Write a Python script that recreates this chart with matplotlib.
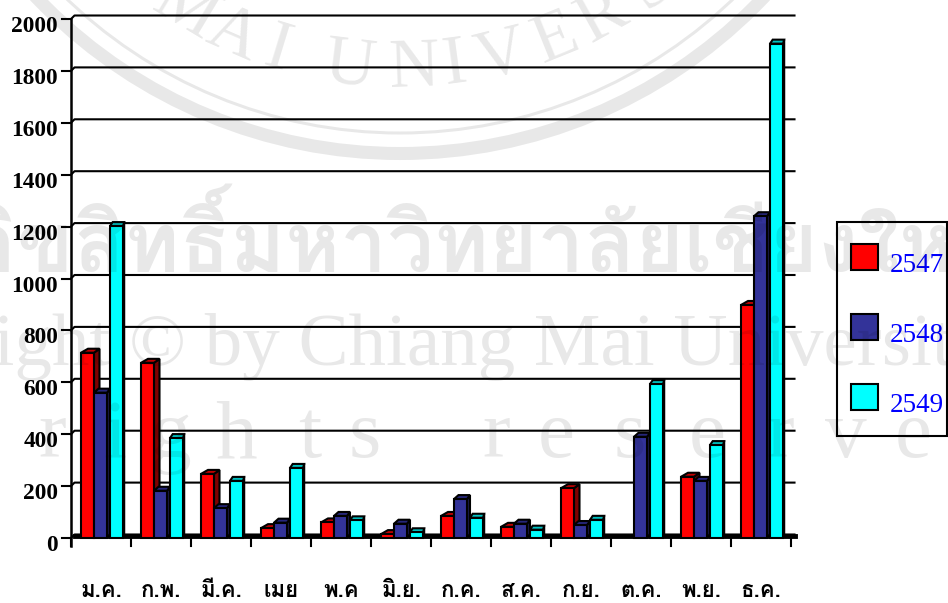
import math
import matplotlib
matplotlib.use('Agg')
import matplotlib.pyplot as plt
from matplotlib import font_manager as fm
from matplotlib.ft2font import FT2Font
from matplotlib.patches import Polygon, Rectangle, Arc

months = ['ม.ค.', 'ก.พ.', 'มี.ค.', 'เมย', 'พ.ค', 'มิ.ย.', 'ก.ค.', 'ส.ค.', 'ก.ย.', 'ต.ค.', 'พ.ย.', 'ธ.ค.']
y2547 = [714, 675, 247, 38, 60, 15, 85, 43, 192, 0, 236, 898]
y2548 = [560, 182, 115, 59, 85, 55, 150, 55, 50, 390, 220, 1240]
y2549 = [1202, 385, 220, 270, 68, 22, 78, 32, 70, 593, 358, 1905]
yticks = [0, 200, 400, 600, 800, 1000, 1200, 1400, 1600, 1800, 2000]
years = ['2547', '2548', '2549']

W, H = 948, 603
L, R, T, B = 71, 791, 19, 538

# look for any installed font with thai glyphs
thai = None
for f in sorted(set(x.fname for x in fm.fontManager.ttflist)):
    try:
        if 0x0E21 in FT2Font(f).get_charmap():
            thai = fm.FontProperties(fname=f)
            break
    except Exception:
        pass
if thai is None:
    thai = fm.FontProperties(family='Liberation Serif')
thai.set_size(16)

fig = plt.figure(figsize=(W/100, H/100), dpi=100)
ax = fig.add_axes([L/W, 1-B/H, (R-L)/W, (B-T)/H])
ax.set_xlim(0, 12)
ax.set_ylim(0, 2000)
for s in ax.spines.values():
    s.set_visible(False)

ppy = (B-T)/2000.0   # pixels per unit
gx = 3.5/60.0
gy = 3.5/ppy
lw = 1.5

# gridlines, shifted a little back from the axis
for v in yticks:
    ax.plot([0, gx, 12+gx], [v, v+gy, v+gy], color='black', lw=lw, clip_on=False, zorder=1)
ax.plot([gx, 12+gx], [gy/2, gy/2], color='black', lw=3.5, clip_on=False, zorder=1)
ax.plot([0, 0], [-8/ppy, 2000], color='black', lw=lw+0.3, clip_on=False, zorder=1)
for v in yticks:
    ax.plot([-9/60.0, 0], [v, v], color='black', lw=lw, clip_on=False, zorder=1)
for i in range(13):
    ax.plot([i, i], [-8/ppy, 0], color='black', lw=lw, clip_on=False, zorder=1)

series = [y2547, y2548, y2549]
faces = ['#ff0000', '#333399', '#00ffff']
sides = ['#800000', '#1a1a4d', '#008080']
tops = ['#c00000', '#26267a', '#00c0c0']
offs = [10/60.0, 23/60.0, 39/60.0]
depths = [5.5/60.0, 3/60.0, 1.2/60.0]
bw = 13/60.0
dy = 4/ppy

z = 2
for i in range(12):
    for vals, fc, sc, tc, o, dx in zip(series, faces, sides, tops, offs, depths):
        v = vals[i]
        if v <= 0:
            continue
        x0 = i+o
        x1 = x0+bw
        ax.add_patch(Polygon([[x1, 0], [x1+dx, dy], [x1+dx, v+dy], [x1, v]], fc=sc, ec='black', lw=lw, zorder=z, clip_on=False))
        ax.add_patch(Polygon([[x0, v], [x0+dx+1.5/60.0, v+dy], [x1+dx, v+dy], [x1, v]], fc=tc, ec='black', lw=lw, zorder=z, clip_on=False))
        ax.bar(x0, v, bw, align='edge', color=fc, edgecolor='black', lw=lw, zorder=z, clip_on=False)
        z += 1

ax.set_xticks([])
ax.set_yticks([])
serif = 'Liberation Serif'
for v in yticks:
    ax.text(-13/60.0, v-5/ppy, str(v), family=serif, weight='bold', size=16.8, ha='right', va='center_baseline')
for i, m in enumerate(months):
    ax.text(i+0.5, -(597-538)/ppy, m, fontproperties=thai, ha='center', va='baseline', clip_on=False)

# legend in pixel positions
def px(x, y):
    return x/W, 1-y/H

fig.add_artist(Rectangle(px(837, 436), 110/W, 214/H, fc='white', ec='black', lw=1.5, transform=fig.transFigure))
for name, fc, top in zip(years, faces, [244, 314, 384]):
    fig.add_artist(Rectangle(px(851, top+26), 27/W, 26/H, fc=fc, ec='black', lw=1.5, transform=fig.transFigure))
    x, y = px(890, top+28)
    fig.text(x, y, name, family=serif, size=19.5, color='#0000ff', va='baseline')

# watermark drawn on top of everything
wm = dict(color='black', alpha=0.09, zorder=50)
ov = fig.add_axes([0, 0, 1, 1], zorder=10)
ov.set_xlim(0, W)
ov.set_ylim(H, 0)
ov.axis('off')
ov.patch.set_alpha(0)
cx, cy = 400, -348
ov.add_patch(Arc((cx, cy), 2*501.5, 2*501.5, theta1=0, theta2=180, lw=9.4, color='black', alpha=0.09))
ov.add_patch(Arc((cx, cy), 2*481, 2*481, theta1=0, theta2=180, lw=2.2, color='black', alpha=0.09))

seal = 'MAIUNIVERS'
seal_deg = [-31, -23.5, -17, -7, 2, 7.6, 14, 22, 29, 37]
for ch, d in zip(seal, seal_deg):
    a = math.radians(d)
    ov.text(cx+418*math.sin(a), cy+418*math.cos(a), ch, family=serif, size=50,
            rotation=d, ha='center', va='center', **wm)

tp = thai.copy()
tp.set_size(60)
ov.text(1010, 272, 'ลิขสิทธิ์มหาวิทยาลัยเชียงใหม่', fontproperties=tp, ha='right', va='baseline', **wm)
ov.text(-194, 365, 'Copyright © by Chiang Mai University', family=serif, size=54, ha='left', va='baseline', **wm)

row = 'rightsreserve'
row_x = [52, 115, 170, 236, 310, 365, 496, 556, 630, 707, 780, 846, 913]
for ch, x in zip(row, row_x):
    ov.text(x, 457, ch, family=serif, size=60, ha='center', va='baseline', **wm)

fig.savefig('out.png', dpi=100)
